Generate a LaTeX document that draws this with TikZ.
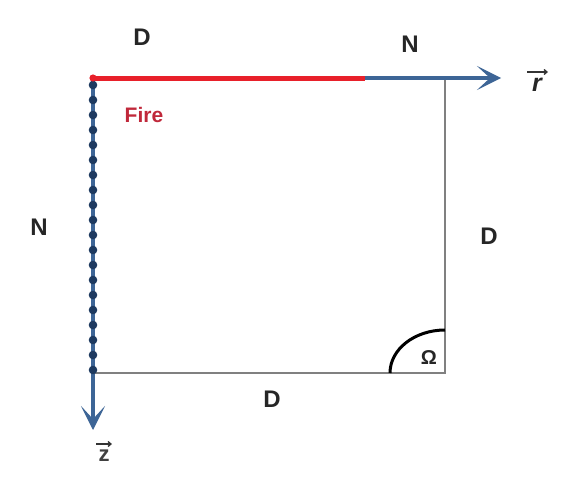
\documentclass[tikz,border=0pt]{standalone}
\usepackage{fontspec}
\setmainfont{Liberation Sans}
\usetikzlibrary{arrows.meta}
\definecolor{axisblue}{HTML}{3D6596}
\definecolor{dotblue}{HTML}{1E3A60}
\definecolor{firered}{HTML}{E8202A}
\definecolor{firetext}{HTML}{C0283A}
\definecolor{sqgray}{HTML}{808080}
\tikzset{
  lbl/.style={font=\fontsize{24}{24}\selectfont\bfseries, text=black!85},
  axis/.style={axisblue, line width=4.5pt, -{Stealth[length=24pt,width=24pt,inset=13pt]}},
  side/.style={sqgray, line width=1.8pt},
  vecbar/.style={black!80, line width=1.3pt, -{Straight Barb[length=3pt,width=5pt]}},
}
\begin{document}
\begin{tikzpicture}[x=1pt,y=-1pt]
\useasboundingbox (0,0) rectangle (570,487);
\coordinate (O) at (93,78);
\coordinate (TR) at (445,78);
\coordinate (C) at (445,373);
\coordinate (BL) at (93,373);
\coordinate (RE) at (365,78);
\coordinate (rend) at (501,78);
\coordinate (zend) at (93,430);
% square sides
\draw[side] (TR) -- (C) -- (BL);
% axes
\draw[axis] (O) -- (rend);
\draw[axis] (O) -- (zend);
% fire segment
\draw[firered, line width=5pt] (O) -- (RE);
% dots
\foreach \k in {0,...,19} {
  \fill[dotblue] (93,{85+\k*15}) circle (4.3pt);
}
\fill[firered] (O) circle (3.6pt);
% angle arc
\draw[black, line width=3pt] ([xshift=-55pt]C) arc[start angle=180, end angle=90, x radius=55pt, y radius=43pt];
% labels
\node[lbl] (d1) at (142,37) {D};
\node[lbl] (n1) at (410,44) {N};
\node[lbl] (n2) at (39,227) {N};
\node[lbl] (d2) at (489,236) {D};
\node[lbl] (d3) at (272,399) {D};
\node[font=\fontsize{21}{21}\selectfont\bfseries, text=firetext] (fire) at (144,115) {Fire};
\node[font=\fontsize{20}{20}\selectfont\bfseries, text=black!85] (om) at (429,358) {Ω};
\node[font=\fontsize{25}{25}\selectfont\bfseries\itshape, text=black!85] (r) at (537,85) {r};
\coordinate (rb1) at (527,72);
\coordinate (rb2) at (548,72);
\draw[vecbar] (rb1) -- (rb2);
\node[font=\fontsize{22}{22}\selectfont\bfseries, text=black!75] (z) at (104,456) {z};
\coordinate (zb1) at (96,444);
\coordinate (zb2) at (112,444);
\draw[vecbar] (zb1) -- (zb2);
\end{tikzpicture}
\end{document}
